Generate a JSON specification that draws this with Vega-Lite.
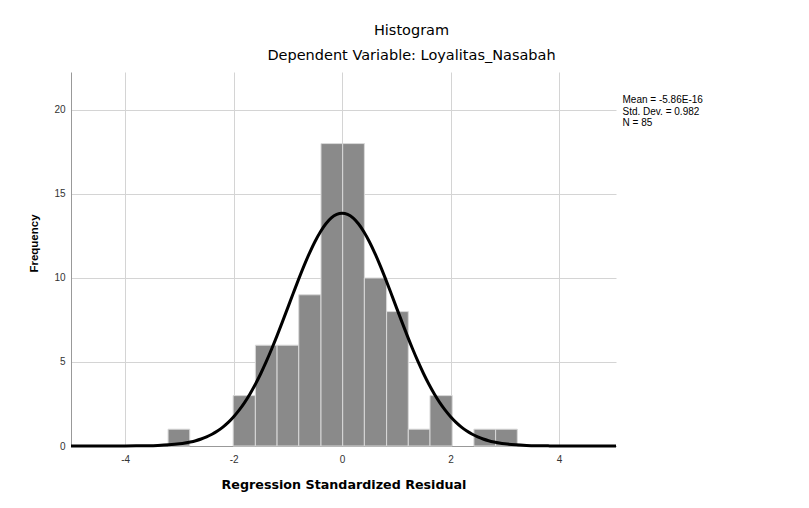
{
  "$schema": "https://vega.github.io/schema/vega-lite/v6.json",
  "autosize": "none",
  "width": 545,
  "height": 374,
  "padding": {"left": 71, "top": 72, "right": 193, "bottom": 62},
  "background": "white",
  "config": {
    "view": {"stroke": null},
    "axis": {
      "labelFont": "Liberation Sans",
      "labelFontSize": 10,
      "labelColor": "#333333",
      "ticks": false,
      "gridColor": "#d4d4d4",
      "gridWidth": 1,
      "domainColor": "#999999",
      "titleColor": "#000000"
    }
  },
  "title": {
    "text": "Histogram",
    "subtitle": "Dependent Variable: Loyalitas_Nasabah",
    "anchor": "middle",
    "dx": 68,
    "offset": 9,
    "font": "DejaVu Sans",
    "fontSize": 14.5,
    "fontWeight": "normal",
    "color": "#000000",
    "subtitleFont": "DejaVu Sans",
    "subtitleFontSize": 14.5,
    "subtitleColor": "#000000",
    "subtitlePadding": 10
  },
  "datasets": {
    "bins": [
      {"bin_start": -3.21, "bin_end": -2.81, "count": 1},
      {"bin_start": -2.01, "bin_end": -1.60, "count": 3},
      {"bin_start": -1.60, "bin_end": -1.20, "count": 6},
      {"bin_start": -1.20, "bin_end": -0.80, "count": 6},
      {"bin_start": -0.80, "bin_end": -0.39, "count": 9},
      {"bin_start": -0.39, "bin_end": 0.01, "count": 18},
      {"bin_start": 0.01, "bin_end": 0.41, "count": 18},
      {"bin_start": 0.41, "bin_end": 0.82, "count": 10},
      {"bin_start": 0.82, "bin_end": 1.22, "count": 8},
      {"bin_start": 1.22, "bin_end": 1.62, "count": 1},
      {"bin_start": 1.62, "bin_end": 2.03, "count": 3},
      {"bin_start": 2.43, "bin_end": 2.83, "count": 1},
      {"bin_start": 2.83, "bin_end": 3.23, "count": 1}
    ],
    "curve": [
      {"resid": -5.0, "freq": 0.0},
      {"resid": -4.5, "freq": 0.0},
      {"resid": -4.0, "freq": 0.003},
      {"resid": -3.8, "freq": 0.008},
      {"resid": -3.6, "freq": 0.017},
      {"resid": -3.4, "freq": 0.035},
      {"resid": -3.2, "freq": 0.069},
      {"resid": -3.0, "freq": 0.130},
      {"resid": -2.9, "freq": 0.177},
      {"resid": -2.8, "freq": 0.238},
      {"resid": -2.7, "freq": 0.316},
      {"resid": -2.6, "freq": 0.417},
      {"resid": -2.5, "freq": 0.543},
      {"resid": -2.4, "freq": 0.699},
      {"resid": -2.3, "freq": 0.892},
      {"resid": -2.2, "freq": 1.127},
      {"resid": -2.1, "freq": 1.408},
      {"resid": -2.0, "freq": 1.742},
      {"resid": -1.9, "freq": 2.133},
      {"resid": -1.8, "freq": 2.583},
      {"resid": -1.7, "freq": 3.098},
      {"resid": -1.6, "freq": 3.676},
      {"resid": -1.5, "freq": 4.316},
      {"resid": -1.4, "freq": 5.016},
      {"resid": -1.3, "freq": 5.771},
      {"resid": -1.2, "freq": 6.569},
      {"resid": -1.1, "freq": 7.401},
      {"resid": -1.0, "freq": 8.252},
      {"resid": -0.9, "freq": 9.107},
      {"resid": -0.8, "freq": 9.946},
      {"resid": -0.7, "freq": 10.751},
      {"resid": -0.6, "freq": 11.500},
      {"resid": -0.5, "freq": 12.175},
      {"resid": -0.4, "freq": 12.757},
      {"resid": -0.3, "freq": 13.228},
      {"resid": -0.2, "freq": 13.575},
      {"resid": -0.1, "freq": 13.788},
      {"resid": 0.0, "freq": 13.86},
      {"resid": 0.1, "freq": 13.788},
      {"resid": 0.2, "freq": 13.575},
      {"resid": 0.3, "freq": 13.228},
      {"resid": 0.4, "freq": 12.757},
      {"resid": 0.5, "freq": 12.175},
      {"resid": 0.6, "freq": 11.500},
      {"resid": 0.7, "freq": 10.751},
      {"resid": 0.8, "freq": 9.946},
      {"resid": 0.9, "freq": 9.107},
      {"resid": 1.0, "freq": 8.252},
      {"resid": 1.1, "freq": 7.401},
      {"resid": 1.2, "freq": 6.569},
      {"resid": 1.3, "freq": 5.771},
      {"resid": 1.4, "freq": 5.016},
      {"resid": 1.5, "freq": 4.316},
      {"resid": 1.6, "freq": 3.676},
      {"resid": 1.7, "freq": 3.098},
      {"resid": 1.8, "freq": 2.583},
      {"resid": 1.9, "freq": 2.133},
      {"resid": 2.0, "freq": 1.742},
      {"resid": 2.1, "freq": 1.408},
      {"resid": 2.2, "freq": 1.127},
      {"resid": 2.3, "freq": 0.892},
      {"resid": 2.4, "freq": 0.699},
      {"resid": 2.5, "freq": 0.543},
      {"resid": 2.6, "freq": 0.417},
      {"resid": 2.7, "freq": 0.316},
      {"resid": 2.8, "freq": 0.238},
      {"resid": 2.9, "freq": 0.177},
      {"resid": 3.0, "freq": 0.130},
      {"resid": 3.2, "freq": 0.069},
      {"resid": 3.4, "freq": 0.035},
      {"resid": 3.6, "freq": 0.017},
      {"resid": 3.8, "freq": 0.008},
      {"resid": 4.0, "freq": 0.003},
      {"resid": 4.5, "freq": 0.0},
      {"resid": 5.05, "freq": 0.0}
    ],
    "stats": [
      {"stat": "summary"}
    ]
  },
  "layer": [
    {
      "data": {"name": "bins"},
      "mark": {"type": "rect", "color": "#8a8a8a", "stroke": "#d9d9d9", "strokeWidth": 1},
      "encoding": {
        "x": {
          "field": "bin_start",
          "type": "quantitative",
          "scale": {"domain": [-5, 5.05], "nice": false, "zero": false},
          "axis": {
            "values": [-4, -2, 0, 2, 4],
            "labelExpr": "'' + datum.value",
            "labelPadding": 8,
            "title": "Regression Standardized Residual",
            "titleFont": "DejaVu Sans",
            "titleFontSize": 12.7,
            "titleFontWeight": "bold",
            "titlePadding": 14
          }
        },
        "x2": {"field": "bin_end"},
        "y": {
          "field": "count",
          "type": "quantitative",
          "scale": {"domain": [0, 22.26], "nice": false},
          "axis": {
            "values": [0, 5, 10, 15, 20],
            "labelPadding": 6,
            "title": "Frequency",
            "titleFont": "Liberation Sans",
            "titleFontSize": 11.5,
            "titleFontWeight": "bold",
            "titleAngle": -90,
            "titleAlign": "center",
            "titleBaseline": "alphabetic",
            "titleX": -34,
            "titleY": 171
          }
        },
        "y2": {"datum": 0}
      }
    },
    {
      "data": {"name": "curve"},
      "mark": {"type": "line", "color": "#000000", "strokeWidth": 3, "interpolate": "monotone"},
      "encoding": {
        "x": {"field": "resid", "type": "quantitative"},
        "y": {"field": "freq", "type": "quantitative"}
      }
    },
    {
      "data": {"name": "stats"},
      "mark": {
        "type": "text",
        "align": "left",
        "baseline": "alphabetic",
        "font": "Liberation Sans",
        "fontSize": 10,
        "lineHeight": 11.3,
        "color": "#000000",
        "text": ["Mean = -5.86E-16", "Std. Dev. = 0.982", "N = 85"]
      },
      "encoding": {
        "x": {"datum": 5.17, "type": "quantitative"},
        "y": {"datum": 20.39, "type": "quantitative"}
      }
    }
  ]
}
